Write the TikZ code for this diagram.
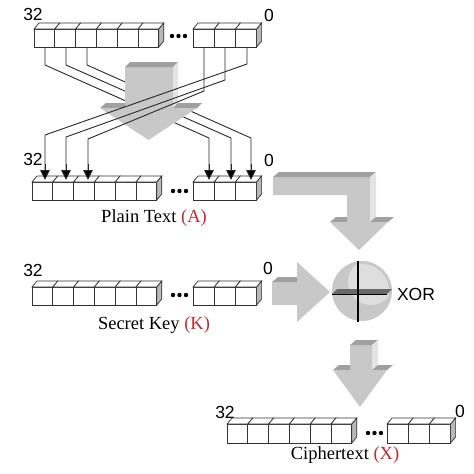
\documentclass[tikz,border=0pt]{standalone}
\usepackage{fontspec}
\setmainfont{Liberation Serif}
\setsansfont{Liberation Sans}
\usetikzlibrary{arrows.meta}
\definecolor{redlab}{RGB}{200,40,50}
\definecolor{afront}{RGB}{200,200,200}
\definecolor{aside}{RGB}{228,228,228}
\definecolor{atop}{RGB}{160,160,160}
\definecolor{cellline}{RGB}{50,50,50}
\definecolor{cellside}{RGB}{185,185,185}
\definecolor{wireclr}{RGB}{40,40,40}
\definecolor{xorfill}{RGB}{200,200,200}
\definecolor{xorlight}{RGB}{222,222,222}
\definecolor{xorplate}{RGB}{105,105,105}
\newcommand{\cellrow}[5]{%
  \foreach \k in {1,...,#3}{%
    \pgfmathsetmacro{\xa}{#1+(\k-1)*#4}%
    \pgfmathsetmacro{\xb}{#1+\k*#4}%
    \draw[cellbox] (\xa,#2) rectangle (\xb,#2+#5);
    \draw[cellbox] (\xa,#2) -- (\xa+5,#2-6) -- (\xb+5,#2-6) -- (\xb,#2) -- cycle;
  }%
  \pgfmathsetmacro{\xe}{#1+#3*#4}%
  \draw[cellbox,fill=cellside] (\xe,#2) -- (\xe+5,#2-6) -- (\xe+5,#2+#5-6) -- (\xe,#2+#5) -- cycle;
}
\newcommand{\threedots}[2]{%
  \foreach \k in {0,1,2}{\fill[black] (#1+\k*6.5,#2) circle (2.2);}%
}
\begin{document}
\begin{tikzpicture}[x=1pt,y=-1pt,
  cellbox/.style={draw=cellline,line width=0.7pt,fill=white,line join=miter},
  wire/.style={draw=wireclr,line width=0.9pt},
  wirearrow/.style={wire,-{Triangle[length=10pt,width=9.5pt,fill=black]}},
  numlab/.style={font=\fontsize{17.5}{20}\sffamily,inner sep=0pt},
  caplab/.style={font=\fontsize{18.5}{22}\selectfont,inner sep=0pt}]
\useasboundingbox (0,0) rectangle (474,474);

% ---------- connector coordinates ----------
\coordinate (tl1) at (45,47);  \coordinate (tl1b) at (45,65);
\coordinate (tl2) at (66,47);  \coordinate (tl2b) at (66,65);
\coordinate (tl3) at (87,47);  \coordinate (tl3b) at (87,65);
\coordinate (tr1) at (204,47); \coordinate (tr1b) at (204,91);
\coordinate (tr2) at (225,47); \coordinate (tr2b) at (225,80);
\coordinate (tr3) at (247,47); \coordinate (tr3b) at (247,64);
\coordinate (pl1) at (45,180); \coordinate (pl1b) at (45,135);
\coordinate (pl2) at (66,180); \coordinate (pl2b) at (66,137);
\coordinate (pl3) at (88,180); \coordinate (pl3b) at (88,139);
\coordinate (pr1) at (209,180); \coordinate (pr1b) at (209,138);
\coordinate (pr2) at (231,180); \coordinate (pr2b) at (231,138);
\coordinate (pr3) at (251,180); \coordinate (pr3b) at (251,138);

% ---------- wires behind the arrow ----------
\draw[wire] (tl1) -- (tl1b) -- (pr1b) -- (pr1);
\draw[wire] (tl2) -- (tl2b) -- (pr2b) -- (pr2);
\draw[wire] (tl3) -- (tl3b) -- (pr3b) -- (pr3);

% ---------- central crossing arrow ----------
\fill[afront] (125,67) rectangle (173,108);
\fill[atop] (125,67) -- (130,62) -- (178,62) -- (173,67) -- cycle;
\fill[aside] (173,67) -- (178,62) -- (178,103) -- (173,108) -- cycle;
\fill[atop] (100,108) -- (106,103) -- (125,103) -- (125,108) -- cycle;
\fill[atop] (173,108) -- (178,103) -- (202,103) -- (197,108) -- cycle;
\fill[afront] (100,108) -- (197,108) -- (148.5,140) -- cycle;

% ---------- wires in front of the arrow ----------
\draw[wire] (tr3) -- (tr3b) -- (pl1b) -- (pl1);
\draw[wire] (tr2) -- (tr2b) -- (pl2b) -- (pl2);
\draw[wire] (tr1) -- (tr1b) -- (pl3b) -- (pl3);

% ---------- registers ----------
\cellrow{34}{29}{6}{20.8}{18}
\cellrow{193}{29}{3}{21.2}{18}
\threedots{172}{36}
\cellrow{32}{182}{6}{20.8}{18}
\cellrow{193}{182}{3}{21.2}{18}
\threedots{173}{191}
\cellrow{32}{287}{6}{20.8}{18}
\cellrow{193}{287}{3}{21.2}{18}
\threedots{173}{295}
\cellrow{227}{424}{6}{20.8}{19}
\cellrow{387}{424}{3}{21.2}{19}
\threedots{368}{433}

% arrow tips over the register tops
\foreach \p in {pl1,pl2,pl3,pr1,pr2,pr3}{
  \draw[wirearrow] ([yshift=16pt]\p) -- (\p);
}

% ---------- L-shaped arrow ----------
\fill[afront] (273,177) -- (370,177) -- (370,222) -- (347,222) -- (347,195) -- (273,195) -- cycle;
\fill[atop] (273,177) -- (279,172) -- (376,172) -- (370,177) -- cycle;
\fill[aside] (370,177) -- (376,172) -- (376,217) -- (370,222) -- cycle;
\fill[atop] (330,222) -- (336,217) -- (347,217) -- (347,222) -- cycle;
\fill[atop] (370,222) -- (376,217) -- (394,217) -- (388,222) -- cycle;
\fill[afront] (330,222) -- (388,222) -- (359,250) -- cycle;

% ---------- right arrow (key to XOR) ----------
\fill[afront] (272,282) rectangle (297,305);
\fill[atop] (272,282) -- (278,277) -- (297,277) -- (297,282) -- cycle;
\fill[afront] (297,262) -- (330,292) -- (297,322) -- cycle;

% ---------- XOR ----------
\coordinate (xc) at (362,291);
\fill[xorfill] (xc) circle (30);
\begin{scope}
  \clip (xc) circle (27);
  \fill[xorlight] (371,282) circle (23);
\end{scope}
\fill[xorplate] (332,294) -- (337,289) -- (392,289) -- (387,294) -- cycle;
\draw[black,line width=1pt] (332,294) -- (387,294);
\draw[black,line width=1.4pt] (358,261) -- (358,322);

% ---------- down arrow ----------
\fill[afront] (350,345) rectangle (372,370);
\fill[atop] (350,345) -- (356,340) -- (378,340) -- (372,345) -- cycle;
\fill[aside] (372,345) -- (378,340) -- (378,365) -- (372,370) -- cycle;
\fill[atop] (333,370) -- (339,365) -- (350,365) -- (350,370) -- cycle;
\fill[atop] (372,370) -- (378,365) -- (393,365) -- (387,370) -- cycle;
\fill[afront] (333,370) -- (387,370) -- (360,407) -- cycle;

% ---------- labels ----------
\node[numlab] (n32a) at (33,14.5) {32};
\node[numlab] (n0a) at (269,15) {0};
\node[numlab] (n32b) at (33,159) {32};
\node[numlab] (n0b) at (269,160) {0};
\node[numlab] (n32c) at (33,270) {32};
\node[numlab] (n0c) at (268,268) {0};
\node[numlab] (n32d) at (225,412) {32};
\node[numlab] (n0d) at (460,411) {0};
\node[numlab] (xorlab) at (416,294) {XOR};
\node[caplab] (plainlab) at (154,218) {Plain Text \textcolor{redlab}{(A)}};
\node[caplab] (keylab) at (154,325) {Secret Key \textcolor{redlab}{(K)}};
\node[caplab] (ciphlab) at (345,455) {Ciphertext \textcolor{redlab}{(X)}};
\end{tikzpicture}
\end{document}
